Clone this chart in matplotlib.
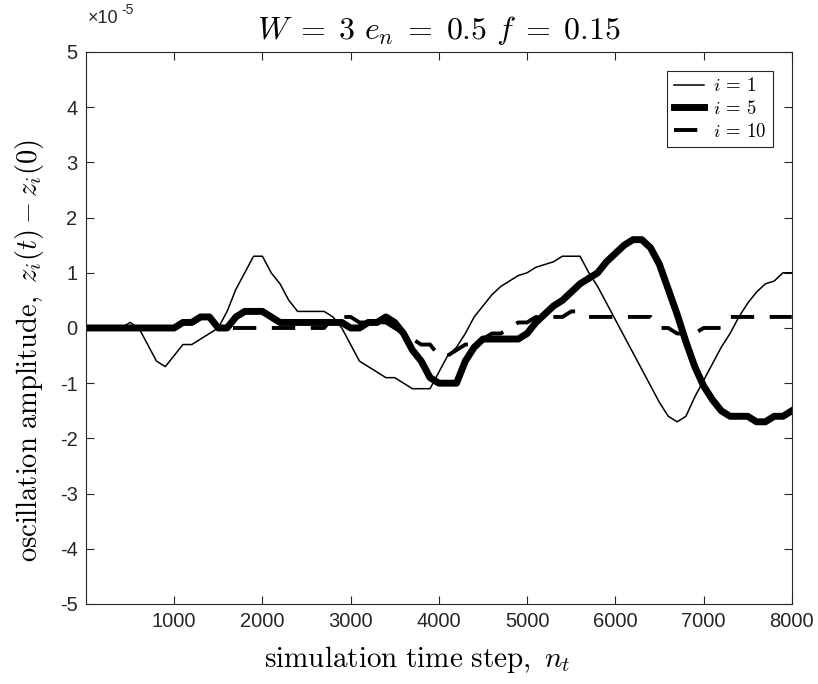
import matplotlib
matplotlib.use("Agg")
import matplotlib.pyplot as plt
import numpy as np

# time steps (sampled every 100) and amplitudes in units of 1e-5
steps = np.arange(0, 8001, 100)

amp_i1 = [0, 0, 0, 0, 0, 0.1, 0, -0.3, -0.6, -0.7,
          -0.5, -0.3, -0.3, -0.2, -0.1, 0.0, 0.3, 0.7, 1.0, 1.3,
          1.3, 1.0, 0.8, 0.5, 0.3, 0.3, 0.3, 0.3, 0.2, 0.0,
          -0.3, -0.6, -0.7, -0.8, -0.9, -0.9, -1.0, -1.1, -1.1, -1.1,
          -0.8, -0.5, -0.35, -0.1, 0.2, 0.4, 0.6, 0.75, 0.85, 0.95,
          1.0, 1.1, 1.15, 1.2, 1.3, 1.3, 1.3, 1.0, 0.75, 0.45,
          0.15, -0.15, -0.45, -0.75, -1.05, -1.35, -1.6, -1.7, -1.6, -1.25,
          -0.95, -0.65, -0.35, -0.1, 0.2, 0.45, 0.65, 0.8, 0.85, 1.0,
          1.0]

amp_i5 = [0, 0, 0, 0, 0, 0, 0, 0, 0, 0,
          0, 0.1, 0.1, 0.2, 0.2, 0.0, 0.0, 0.2, 0.3, 0.3,
          0.3, 0.2, 0.1, 0.1, 0.1, 0.1, 0.1, 0.1, 0.1, 0.1,
          0.0, 0.0, 0.1, 0.1, 0.2, 0.1, -0.1, -0.4, -0.6, -0.9,
          -1.0, -1.0, -1.0, -0.6, -0.35, -0.2, -0.2, -0.2, -0.2, -0.2,
          -0.1, 0.1, 0.25, 0.4, 0.5, 0.65, 0.8, 0.9, 1.0, 1.2,
          1.35, 1.5, 1.6, 1.6, 1.45, 1.15, 0.7, 0.25, -0.25, -0.7,
          -1.05, -1.3, -1.5, -1.6, -1.6, -1.6, -1.7, -1.7, -1.6, -1.6,
          -1.5]

amp_i10 = [0, 0, 0, 0, 0, 0, 0, 0, 0, 0,
           0, 0.1, 0.1, 0.2, 0.2, 0.0, 0.0, 0.0, 0.0, 0.0,
           0.0, 0.0, 0.0, 0.0, 0.0, 0.0, 0.0, 0.0, 0.2, 0.2,
           0.2, 0.1, 0.1, 0.1, 0.1, 0.0, -0.1, -0.2, -0.3, -0.3,
           -0.5, -0.5, -0.4, -0.3, -0.3, -0.2, -0.1, -0.1, 0.0, 0.1,
           0.1, 0.2, 0.2, 0.2, 0.2, 0.3, 0.3, 0.2, 0.2, 0.2,
           0.2, 0.2, 0.2, 0.2, 0.2, 0.0, 0.0, -0.1, -0.1, -0.1,
           0.0, 0.0, 0.0, 0.2, 0.2, 0.2, 0.2, 0.2, 0.2, 0.2,
           0.2]

xticks = [1000, 2000, 3000, 4000, 5000, 6000, 7000, 8000]
yticks = [-5, -4, -3, -2, -1, 0, 1, 2, 3, 4, 5]

plt.rcParams['mathtext.fontset'] = 'cm'
plt.rcParams['font.family'] = ['Liberation Sans', 'DejaVu Sans']
plt.rcParams['axes.unicode_minus'] = False
axcol = '#262626'

fig = plt.figure(figsize=(8.18, 6.84), dpi=100)
ax = fig.add_axes([0.105, 0.117, 0.863, 0.807])

ax.plot(steps, amp_i1, color='k', lw=1.1, label=r'$i\,=\,1$')
ax.plot(steps, amp_i5, color='k', lw=5, label=r'$i\,=\,5$')
ax.plot(steps, amp_i10, color='k', lw=2.8, dashes=(6, 4), label=r'$i\,=\,10$')

ax.set_xlim(0, 8000)
ax.set_ylim(-5, 5)
ax.set_xticks(xticks)
ax.set_yticks(yticks)
ax.tick_params(direction='in', top=True, right=True, length=6, width=0.8,
               labelsize=14.5, colors=axcol, pad=6)
for s in ax.spines.values():
    s.set_color(axcol)
    s.set_linewidth(0.8)

# exponent label in the MATLAB style
ax.text(0.002, 1.046, '\u00d710', transform=ax.transAxes,
        fontsize=13, color=axcol, va='bottom', ha='left')
ax.text(0.05, 1.064, '-5', transform=ax.transAxes,
        fontsize=10, color=axcol, va='bottom', ha='left')

ax.set_title(r'$W \;=\; 3\ e_n \;=\; 0.5\ f \;=\; 0.15$', fontsize=23, pad=9)
ax.set_xlabel(r'$\mathrm{simulation\ time\ step,}\ n_t$', fontsize=21)
ax.set_ylabel(r'$\mathrm{oscillation\ amplitude,}\ z_i(t) - z_i(0)$', fontsize=20.5)
ax.xaxis.set_label_coords(0.47, -0.072)
ax.yaxis.set_label_coords(-0.057, 0.46)

leg = ax.legend(loc='upper right', fontsize=13.5, handlelength=1.6,
                handletextpad=0.5, borderaxespad=1.0, fancybox=False,
                framealpha=1, edgecolor=axcol, labelspacing=0.25,
                borderpad=0.35)
leg.get_frame().set_linewidth(0.8)

fig.savefig('out.png', dpi=100)
